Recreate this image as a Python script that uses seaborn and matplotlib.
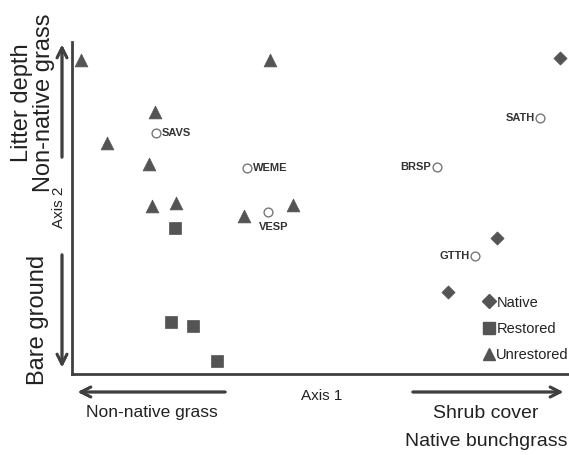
import pandas as pd
import seaborn as sns
import matplotlib.pyplot as plt
from matplotlib.lines import Line2D

# site scores (ordination, arbitrary units 0-100)
unres_x = [1.8, 16.7, 7.0, 15.5, 16.1, 20.9, 39.8, 34.6, 44.5]
unres_y = [94.6, 78.9, 69.6, 63.3, 50.6, 51.5, 94.6, 47.6, 50.9]
rest_x = [20.7, 19.9, 24.3, 29.2]
rest_y = [44.0, 15.7, 14.5, 3.9]
nat_x = [98.2, 85.5, 75.7]
nat_y = [95.2, 41.0, 24.7]

# species scores
species = ['SAVS', 'WEME', 'VESP', 'BRSP', 'SATH', 'GTTH']
sp_x = [16.9, 35.2, 39.4, 73.4, 94.2, 81.1]
sp_y = [72.6, 62.0, 48.8, 62.3, 77.1, 35.5]

groups = ['Native', 'Restored', 'Unrestored']

sites = pd.DataFrame({
    'x': nat_x + rest_x + unres_x,
    'y': nat_y + rest_y + unres_y,
    'group': ['Native'] * len(nat_x) + ['Restored'] * len(rest_x) + ['Unrestored'] * len(unres_x),
})

sns.set_style('white')
plt.rcParams['font.family'] = ['Liberation Sans', 'DejaVu Sans']

W, H = 569, 455
fig = plt.figure(figsize=(W / 100, H / 100), dpi=100)
ax = fig.add_axes([72 / W, 1 - 374 / H, (W - 72) / W, 332 / H])

gray = '#545454'
marks = {'Native': 'D', 'Restored': 's', 'Unrestored': '^'}
sizes = {'Native': 45, 'Restored': 85, 'Unrestored': 85}
for g in groups:
    sub = sites[sites['group'] == g]
    sns.scatterplot(data=sub, x='x', y='y', marker=marks[g], s=sizes[g],
                    color=gray, edgecolor=gray, linewidth=0.5, ax=ax, legend=False)

sns.scatterplot(x=sp_x, y=sp_y, marker='o', s=40, facecolor='white',
                edgecolor='#777777', linewidth=1.0, ax=ax, legend=False)

place = {'SAVS': (4, 0, 'left', 'center'), 'WEME': (4, 0, 'left', 'center'),
         'VESP': (4, -7, 'center', 'top'), 'BRSP': (-4, 0, 'right', 'center'),
         'SATH': (-4, 0, 'right', 'center'), 'GTTH': (-4, 0, 'right', 'center')}
for name, x, y in zip(species, sp_x, sp_y):
    dx, dy, ha, va = place[name]
    ax.annotate(name, (x, y), xytext=(dx, dy), textcoords='offset points',
                ha=ha, va=va, fontsize=8, fontweight='bold', color='#333333')

ax.set_xlim(0, 100)
ax.set_ylim(0, 100)
ax.set_xticks([])
ax.set_yticks([])
ax.set_xlabel('')
ax.set_ylabel('')
sns.despine(ax=ax)
for s in ['left', 'bottom']:
    ax.spines[s].set_color('#404040')
    ax.spines[s].set_linewidth(2)

handles = [Line2D([], [], marker=marks[g], color=gray, linestyle='none',
                  markersize=7 if g == 'Native' else 9) for g in groups]
leg = ax.legend(handles, groups, loc='lower right', bbox_to_anchor=(1.0, 0.035),
                frameon=False, handletextpad=0.0, handlelength=1.0, labelspacing=0.85,
                borderpad=0, borderaxespad=0, prop={'size': 10.5})
for t in leg.get_texts():
    t.set_color('#222222')


def fx(px):
    return px / W


def fy(py):
    return 1 - py / H


arrow = dict(arrowstyle='->', color='#404040', lw=2, mutation_scale=18)
fig.add_artist(plt.annotate('', xy=(fx(75), fy(392)), xytext=(fx(228), fy(392)),
                            xycoords='figure fraction', arrowprops=arrow))
fig.add_artist(plt.annotate('', xy=(fx(566), fy(392)), xytext=(fx(410), fy(392)),
                            xycoords='figure fraction', arrowprops=arrow))
fig.add_artist(plt.annotate('', xy=(fx(62), fy(42)), xytext=(fx(62), fy(160)),
                            xycoords='figure fraction', arrowprops=arrow))
fig.add_artist(plt.annotate('', xy=(fx(62), fy(370)), xytext=(fx(62), fy(252)),
                            xycoords='figure fraction', arrowprops=arrow))

tc = '#222222'
fig.text(fx(22), fy(103), 'Litter depth', rotation=90, ha='center', va='center', fontsize=17, color=tc)
fig.text(fx(44), fy(103), 'Non-native grass', rotation=90, ha='center', va='center', fontsize=17, color=tc)
fig.text(fx(59), fy(207), 'Axis 2', rotation=90, ha='center', va='center', fontsize=11, color=tc)
fig.text(fx(38), fy(320), 'Bare ground', rotation=90, ha='center', va='center', fontsize=17, color=tc)
fig.text(fx(152), fy(413), 'Non-native grass', ha='center', va='center', fontsize=12.5, color=tc)
fig.text(fx(322), fy(396), 'Axis 1', ha='center', va='center', fontsize=11, color=tc)
fig.text(fx(486), fy(414), 'Shrub cover', ha='center', va='center', fontsize=14, color=tc)
fig.text(fx(486), fy(441), 'Native bunchgrass', ha='center', va='center', fontsize=14, color=tc)

fig.savefig('out.png', dpi=100)
